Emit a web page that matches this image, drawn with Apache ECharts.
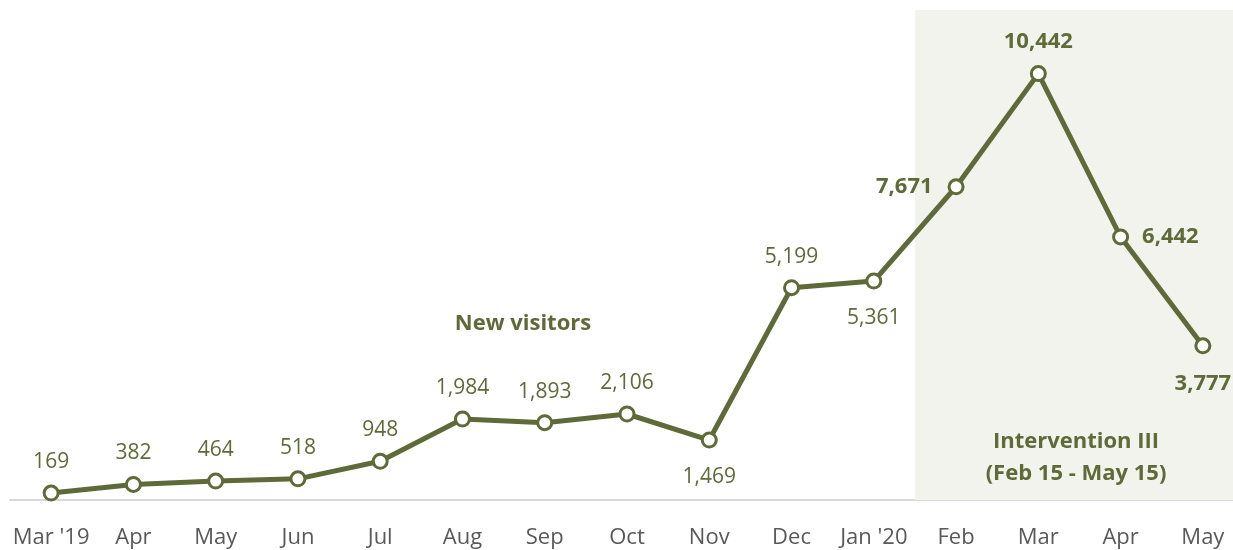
<!DOCTYPE html>
<html>
<head>
<meta charset="utf-8">
<script src="https://cdn.jsdelivr.net/npm/echarts@6/dist/echarts.min.js"></script>
<style>
  html, body { margin: 0; padding: 0; background: #ffffff; }
  #chart { width: 1233px; height: 550px; }
</style>
</head>
<body>
<div id="chart"></div>
<script>
// Monthly new visitors, Mar 2019 - May 2020
const months = ["Mar '19", "Apr", "May", "Jun", "Jul", "Aug", "Sep", "Oct", "Nov", "Dec", "Jan '20", "Feb", "Mar", "Apr", "May"];
const newVisitors = [169, 382, 464, 518, 948, 1984, 1893, 2106, 1469, 5199, 5361, 7671, 10442, 6442, 3777];
// Where each value label sits relative to its point
const labelSides = ["top", "top", "top", "top", "top", "top", "top", "top", "bottom", "top", "bottom", "left", "top", "right", "bottom"];
// Months inside the intervention window get bold labels
const interventionMonths = [11, 12, 13, 14];
// Intervention window on the month index scale (Feb 15 - May 15)
const interventionSpan = [10.5, 14.5];

const olive = '#5E6A38';
const font = '"Open Sans", "Noto Sans", sans-serif';

const sideDistance = { top: 12, bottom: 18, left: 15, right: 13 };

const lineData = newVisitors.map((v, i) => {
  const bold = interventionMonths.includes(i);
  return {
    value: v,
    label: {
      position: labelSides[i],
      fontWeight: bold ? 'bold' : 'normal',
      fontSize: bold ? 22 : 21,
      distance: sideDistance[labelSides[i]]
    }
  };
});

const chart = echarts.init(document.getElementById('chart'));
chart.setOption({
  animation: false,
  textStyle: { fontFamily: font },
  title: [
    {
      text: 'New visitors',
      left: 518, top: 308,
      textAlign: 'center',
      textStyle: { color: olive, fontSize: 22, fontWeight: 'bold', fontFamily: font }
    },
    {
      text: 'Intervention III\n(Feb 15 - May 15)',
      left: 1071, top: 421,
      textAlign: 'center',
      textStyle: { color: olive, fontSize: 22, fontWeight: 'bold', fontFamily: font, lineHeight: 32 }
    }
  ],
  grid: { left: 10, width: 1234, top: 10, bottom: 50, outerBoundsMode: 'none', containLabel: false },
  xAxis: [
    {
      type: 'category',
      data: months,
      boundaryGap: true,
      axisLine: { lineStyle: { color: '#D9D9D9', width: 2 } },
      axisTick: { show: false },
      axisLabel: { color: '#595959', fontSize: 22, margin: 27, interval: 0, fontFamily: font }
    },
    {
      type: 'value',
      min: -0.5, max: 14.5,
      show: false
    }
  ],
  yAxis: {
    type: 'value',
    min: 0, max: 12000,
    show: false,
    splitLine: { show: false }
  },
  series: [
    {
      type: 'line',
      xAxisIndex: 1,
      data: [[interventionSpan[0], 0]],
      showSymbol: false,
      silent: true,
      lineStyle: { width: 0 },
      markArea: {
        silent: true,
        itemStyle: { color: '#F2F3EC' },
        data: [[
          { xAxis: interventionSpan[0], yAxis: 12000 },
          { xAxis: interventionSpan[1], yAxis: 0 }
        ]]
      },
      z: 0
    },
    {
      name: 'New visitors',
      type: 'line',
      data: lineData,
      symbol: 'circle',
      symbolSize: 14,
      lineStyle: { color: olive, width: 5 },
      itemStyle: { color: '#ffffff', borderColor: olive, borderWidth: 3 },
      label: {
        show: true,
        color: olive,
        fontFamily: font,
        formatter: p => p.value.toLocaleString('en-US')
      },
      z: 3
    }
  ]
});
</script>
</body>
</html>
